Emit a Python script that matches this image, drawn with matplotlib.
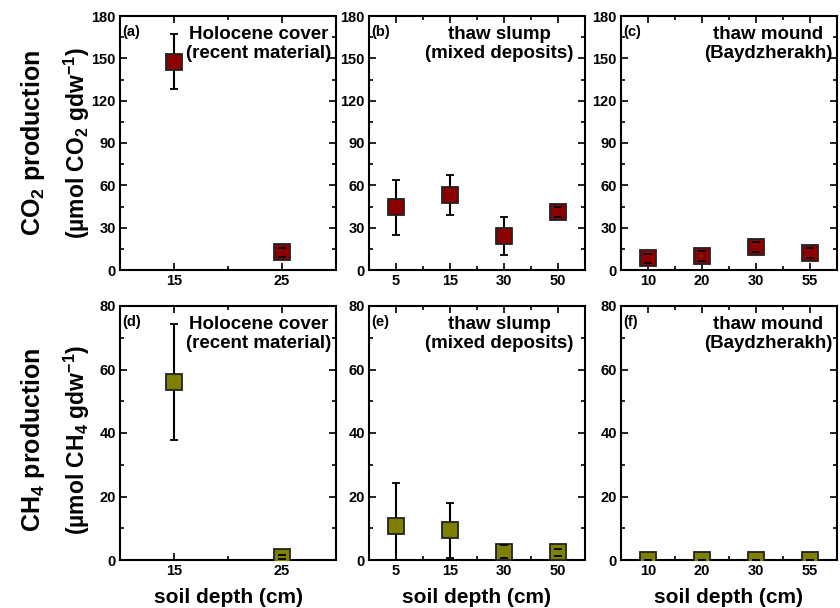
import matplotlib.pyplot as plt
from matplotlib.ticker import MultipleLocator

plt.rcParams["font.family"] = ["Liberation Sans", "DejaVu Sans"]
plt.rcParams["font.weight"] = "bold"
plt.rcParams["mathtext.fontset"] = "custom"
plt.rcParams["mathtext.rm"] = "Liberation Sans:bold"
plt.rcParams["mathtext.it"] = "Liberation Sans:bold"
plt.rcParams["mathtext.default"] = "rm"

# soil depths (categories) for each site
depth_holo = ["15", "25"]
depth_slump = ["5", "15", "30", "50"]
depth_mound = ["10", "20", "30", "55"]

# CO2 production and error
co2_holo = [147.5, 12.5]
co2_holo_err = [19.5, 3]
co2_slump = [44.5, 53, 24, 41]
co2_slump_err = [19.5, 14, 13.7, 3.5]
co2_mound = [8.3, 10, 16.3, 12.3]
co2_mound_err = [3, 3.5, 3.5, 3.5]

# CH4 production and error
ch4_holo = [56, 1.0]
ch4_holo_err = [18.3, 0.6]
ch4_slump = [10.8, 9.4, 2.6, 2.4]
ch4_slump_err = [13.6, 8.7, 2.0, 1.1]
ch4_mound = [0.1, 0.1, 0.1, 0.1]
ch4_mound_err = [0.05, 0.05, 0.05, 0.05]

site_names = ["Holocene cover\n(recent material)", "thaw slump\n(mixed deposits)",
              "thaw mound\n(Baydzherakh)"]
letters = ["(a)", "(b)", "(c)", "(d)", "(e)", "(f)"]

co2_color = "#8b0000"
ch4_color = "#7f7f00"

fig = plt.figure(figsize=(8.4, 6.08), dpi=100)

lefts = [120 / 840, 369 / 840, 621 / 840]
width = 216 / 840
height = 254 / 608
bottoms = [1 - 270 / 608, 1 - 560 / 608]
title_x = [0.64, 0.605, 0.682]

rows = [
    ([depth_holo, depth_slump, depth_mound],
     [co2_holo, co2_slump, co2_mound],
     [co2_holo_err, co2_slump_err, co2_mound_err], co2_color, 180, 30),
    ([depth_holo, depth_slump, depth_mound],
     [ch4_holo, ch4_slump, ch4_mound],
     [ch4_holo_err, ch4_slump_err, ch4_mound_err], ch4_color, 80, 20),
]

for r, (depths, vals, errs, color, ymax, ystep) in enumerate(rows):
    for c in range(3):
        ax = fig.add_axes([lefts[c], bottoms[r], width, height])
        x = list(range(len(depths[c])))
        line, caps, bars = ax.errorbar(x, vals[c], yerr=errs[c], fmt="s", ms=11.5,
                                       mfc=color, mec="#222222", mew=1.3,
                                       ecolor="black", elinewidth=1.5,
                                       capsize=3, capthick=1.5, zorder=3)
        line.set_zorder(4)
        for cap in caps:
            cap.set_zorder(5)
        ax.set_xlim(-0.5, len(x) - 0.5)
        ax.set_ylim(0, ymax)
        ax.set_xticks(x)
        ax.set_xticklabels(depths[c])
        ax.set_xticks([i + 0.5 for i in x[:-1]], minor=True)
        ax.yaxis.set_major_locator(MultipleLocator(ystep))
        ax.yaxis.set_minor_locator(MultipleLocator(ystep / 2))
        ax.tick_params(which="both", direction="in", top=True, right=True,
                       width=1.2, labelsize=10.5)
        ax.tick_params(which="major", length=5, pad=3)
        ax.tick_params(which="minor", length=3)
        for lab in ax.get_xticklabels() + ax.get_yticklabels():
            lab.set_fontweight("bold")
        for s in ax.spines.values():
            s.set_linewidth(1.5)
        ax.text(0.01, 0.965, letters[r * 3 + c], transform=ax.transAxes,
                fontsize=10.5, fontweight="bold", ha="left", va="top")
        ax.text(title_x[c], 0.962, site_names[c], transform=ax.transAxes,
                fontsize=13.5, fontweight="bold", ha="center", va="top",
                multialignment="center", linespacing=1.15)
        if r == 1:
            ax.set_xlabel("soil depth (cm)", fontsize=15, fontweight="bold",
                          labelpad=7)

fig.text(33 / 840, 1 - 143 / 608, "CO$_2$ production", rotation=90,
         fontsize=18, fontweight="bold", ha="center", va="center")
fig.text(77 / 840, 1 - 143 / 608, "(µmol CO$_2$ gdw$^{-1}$)", rotation=90,
         fontsize=16.5, fontweight="bold", ha="center", va="center")
fig.text(33 / 840, 1 - 440 / 608, "CH$_4$ production", rotation=90,
         fontsize=18, fontweight="bold", ha="center", va="center")
fig.text(77 / 840, 1 - 440 / 608, "(µmol CH$_4$ gdw$^{-1}$)", rotation=90,
         fontsize=16.5, fontweight="bold", ha="center", va="center")

fig.savefig("out.png", dpi=100)
